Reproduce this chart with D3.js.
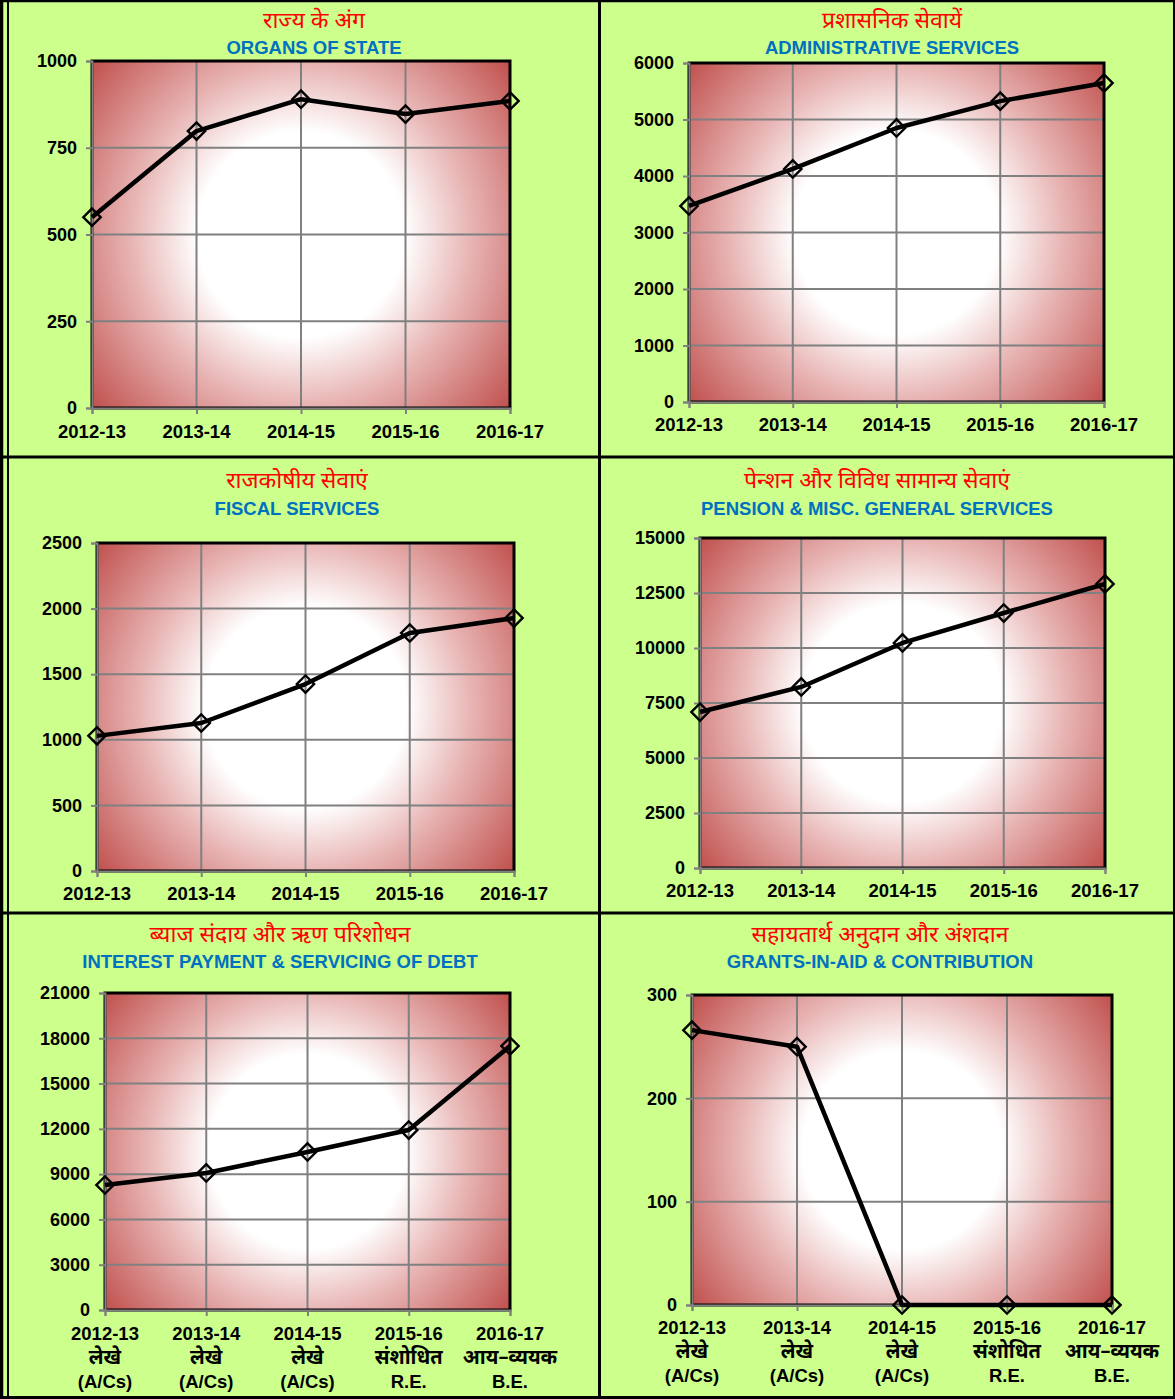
<!DOCTYPE html>
<html><head><meta charset="utf-8">
<script src="https://d3js.org/d3.v7.min.js"></script>
<style>
html,body{margin:0;padding:0;background:#ccff8c;}
svg{display:block;}
</style></head>
<body><svg id="c" width="1175" height="1399"></svg>
<script>
// ---- data ----
const categories = ["2012-13","2013-14","2014-15","2015-16","2016-17"];
const catLine2 = ["लेखे","लेखे","लेखे","संशोधित","आय–व्ययक"];
const catLine3 = ["(A/Cs)","(A/Cs)","(A/Cs)","R.E.","B.E."];

const organsOfState   = [550, 798, 890, 847, 885];
const administrative  = [3470, 4125, 4850, 5325, 5645];
const fiscal          = [1030, 1128, 1425, 1814, 1928];
const pension         = [7090, 8230, 10230, 11590, 12910];
const interestDebt    = [8280, 9080, 10470, 11920, 17490];
const grantsInAid     = [266, 250, 0, 0, 0];

const ticksOrgans   = [0, 250, 500, 750, 1000];
const ticksAdmin    = [0, 1000, 2000, 3000, 4000, 5000, 6000];
const ticksFiscal   = [0, 500, 1000, 1500, 2000, 2500];
const ticksPension  = [0, 2500, 5000, 7500, 10000, 12500, 15000];
const ticksInterest = [0, 3000, 6000, 9000, 12000, 15000, 18000, 21000];
const ticksGrants   = [0, 100, 200, 300];

const titlesHi = ["राज्य के अंग","प्रशासनिक सेवायें","राजकोषीय सेवाएं","पेन्शन और विविध सामान्य सेवाएं","ब्याज संदाय और ऋण परिशोधन","सहायतार्थ अनुदान और अंशदान"];
const titlesEn = ["ORGANS OF STATE","ADMINISTRATIVE SERVICES","FISCAL SERVICES","PENSION & MISC. GENERAL SERVICES","INTEREST PAYMENT & SERVICING OF DEBT","GRANTS-IN-AID & CONTRIBUTION"];

const seriesList = [organsOfState, administrative, fiscal, pension, interestDebt, grantsInAid];
const tickList = [ticksOrgans, ticksAdmin, ticksFiscal, ticksPension, ticksInterest, ticksGrants];

// ---- layout (positions only) ----
const layout = [
  {x0:92, x1:510, y0:61, y1:408, tx:314, ty1:28, ty2:54, lab:438, multi:false},
  {x0:689, x1:1104, y0:63, y1:402, tx:892, ty1:28, ty2:54, lab:431, multi:false},
  {x0:97, x1:514, y0:543, y1:871, tx:297, ty1:488, ty2:515, lab:900, multi:false},
  {x0:700, x1:1105, y0:538, y1:868, tx:877, ty1:488, ty2:515, lab:897, multi:false},
  {x0:105, x1:510, y0:993, y1:1310, tx:280, ty1:942, ty2:968, lab:1340, multi:true},
  {x0:692, x1:1112, y0:995, y1:1305, tx:880, ty1:942, ty2:968, lab:1334, multi:true}
];

const svg = d3.select("#c");
const defs = svg.append("defs");
const FONT = "'Liberation Sans', Arial, sans-serif";
const HFONT = "'Noto Sans Devanagari','Lohit Devanagari','Mangal','Noto Sans', sans-serif";

svg.append("rect").attr("width",1175).attr("height",1399).attr("fill","#ccff8c");

layout.forEach((L, i) => {
  const data = seriesList[i], ticks = tickList[i];
  const x = d3.scalePoint().domain(categories).range([L.x0, L.x1]).padding(0);
  const y = d3.scaleLinear().domain([0, d3.max(ticks)]).range([L.y1, L.y0]);
  const g = svg.append("g");

  const w = L.x1 - L.x0, h = L.y1 - L.y0;
  const cx = (L.x0+L.x1)/2, cy = (L.y0+L.y1)/2;
  const r = Math.sqrt(w*w+h*h)/2;
  const gr = defs.append("radialGradient").attr("id","grad"+i)
    .attr("gradientUnits","userSpaceOnUse").attr("cx",cx).attr("cy",cy).attr("r",r);
  gr.append("stop").attr("offset","0").attr("stop-color","#ffffff");
  gr.append("stop").attr("offset","0.38").attr("stop-color","#ffffff");
  gr.append("stop").attr("offset","0.62").attr("stop-color","#e8b6b5");
  gr.append("stop").attr("offset","1").attr("stop-color","#c0504d");

  g.append("rect").attr("x",L.x0).attr("y",L.y0).attr("width",w).attr("height",h)
    .attr("fill","url(#grad"+i+")");

  g.selectAll(".hg").data(ticks.filter(t=>t>0)).join("line")
    .attr("x1",L.x0).attr("x2",L.x1).attr("y1",d=>y(d)).attr("y2",d=>y(d))
    .attr("stroke","#808080").attr("stroke-width",2);
  g.selectAll(".vg").data(categories.slice(1)).join("line")
    .attr("x1",d=>x(d)).attr("x2",d=>x(d)).attr("y1",L.y0).attr("y2",L.y1)
    .attr("stroke","#808080").attr("stroke-width",2);

  g.append("rect").attr("x",L.x0).attr("y",L.y0).attr("width",w).attr("height",h)
    .attr("fill","none").attr("stroke","#000").attr("stroke-width",3);

  const ya = d3.axisLeft(y).tickValues(ticks).tickSize(6).tickPadding(9).tickFormat(d3.format("d"));
  const yg = g.append("g").attr("transform",`translate(${L.x0},0)`).call(ya);
  yg.select(".domain").attr("stroke","#808080").attr("stroke-width",2);
  yg.selectAll(".tick line").attr("stroke","#808080").attr("stroke-width",2);
  yg.selectAll(".tick text").attr("font-family",FONT).attr("font-weight","bold")
    .attr("font-size",18).attr("fill","#000");

  const xa = d3.axisBottom(x).tickSize(6).tickFormat("");
  const xg = g.append("g").attr("transform",`translate(0,${L.y1})`).call(xa);
  xg.select(".domain").attr("stroke","#808080").attr("stroke-width",2);
  xg.selectAll(".tick line").attr("stroke","#808080").attr("stroke-width",2);

  g.selectAll(".cl").data(categories).join("text")
    .attr("x",d=>x(d)).attr("y",L.lab).attr("text-anchor","middle")
    .attr("font-family",FONT).attr("font-weight","bold").attr("font-size",18.5)
    .text(d=>d);
  if (L.multi) {
    g.selectAll(".cl2").data(catLine2).join("text")
      .attr("x",(d,j)=>x(categories[j])).attr("y",L.lab+24).attr("text-anchor","middle")
      .attr("font-family",HFONT).attr("font-weight","bold").attr("font-size",20)
      .text(d=>d);
    g.selectAll(".cl3").data(catLine3).join("text")
      .attr("x",(d,j)=>x(categories[j])).attr("y",L.lab+48).attr("text-anchor","middle")
      .attr("font-family",FONT).attr("font-weight","bold").attr("font-size",18.5)
      .text(d=>d);
  }

  const line = d3.line().x((d,j)=>x(categories[j])).y(d=>y(d));
  g.append("path").datum(data).attr("d",line).attr("fill","none")
    .attr("stroke","#000").attr("stroke-width",4.5).attr("stroke-linejoin","round");
  g.selectAll(".mk").data(data).join("path")
    .attr("d", d3.symbol().type(d3.symbolSquare).size(150)())
    .attr("transform",(d,j)=>`translate(${x(categories[j])},${y(d)}) rotate(45)`)
    .attr("fill","none").attr("stroke","#000").attr("stroke-width",2.4);

  svg.append("text").attr("x",L.tx).attr("y",L.ty1).attr("text-anchor","middle")
    .attr("font-family",HFONT).attr("font-size",23).attr("fill","#ff0000")
    .text(titlesHi[i]);
  svg.append("text").attr("x",L.tx).attr("y",L.ty2).attr("text-anchor","middle")
    .attr("font-family",FONT).attr("font-weight","bold").attr("font-size",18.5).attr("fill","#0070c0")
    .text(titlesEn[i]);
});

const frame = svg.append("g").attr("stroke","#000");
frame.append("line").attr("x1",1.5).attr("x2",1.5).attr("y1",0).attr("y2",1399).attr("stroke-width",3.5);
frame.append("line").attr("x1",8).attr("x2",8).attr("y1",0).attr("y2",1399).attr("stroke-width",2);
frame.append("line").attr("x1",0).attr("x2",1175).attr("y1",1).attr("y2",1).attr("stroke-width",2.5);
frame.append("line").attr("x1",0).attr("x2",1175).attr("y1",1397.5).attr("y2",1397.5).attr("stroke-width",3);
frame.append("line").attr("x1",1174).attr("x2",1174).attr("y1",0).attr("y2",1399).attr("stroke-width",2);
frame.append("line").attr("x1",599.5).attr("x2",599.5).attr("y1",0).attr("y2",1399).attr("stroke-width",3);
frame.append("line").attr("x1",0).attr("x2",1175).attr("y1",457).attr("y2",457).attr("stroke-width",3);
frame.append("line").attr("x1",0).attr("x2",1175).attr("y1",913).attr("y2",913).attr("stroke-width",3);
</script></body></html>
